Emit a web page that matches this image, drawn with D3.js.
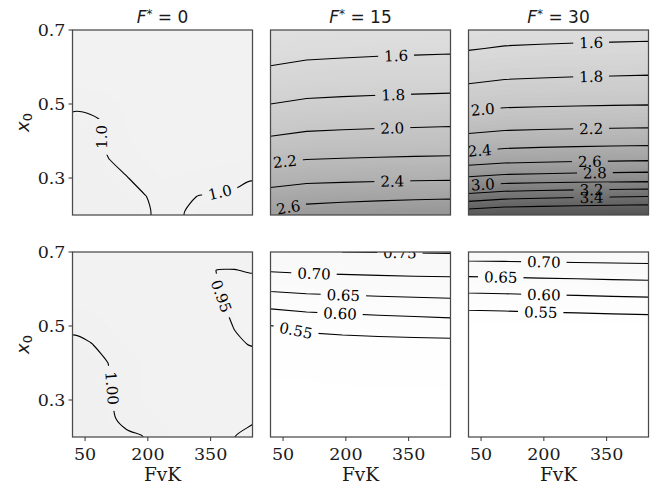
<!DOCTYPE html>
<html>
<head>
<meta charset="utf-8">
<script src="https://cdn.jsdelivr.net/npm/d3@7"></script>
<style>
  body { margin: 0; background: #fff; }
  svg text { font-family: "DejaVu Serif", serif; fill: #1a1a1a; }
</style>
</head>
<body>
<div id="chart"></div>
<script>
// Axis setup
var fvkDomain = [20, 450]
var x0Domain = [0.2, 0.7]
var fvkTicks = [50, 200, 350]
var x0Ticks = [0.3, 0.5, 0.7]
var fStars = [0, 15, 30]
var colorDomain = [0.5, 5]

// Grids: rows go from x0 = 0.7 (top) down to 0.2 in steps of 0.05,
// columns are spread evenly over FvK 20..450
var topF0 = [
  [0.970, 0.970, 0.970, 0.970, 0.970, 0.970, 0.970, 0.970, 0.970, 0.970, 0.970],
  [0.970, 0.970, 0.970, 0.970, 0.970, 0.970, 0.970, 0.970, 0.970, 0.970, 0.970],
  [0.970, 0.970, 0.970, 0.970, 0.970, 0.970, 0.970, 0.970, 0.970, 0.970, 0.970],
  [0.9735, 0.9715, 0.970, 0.970, 0.970, 0.970, 0.970, 0.970, 0.970, 0.970, 0.970],
  [0.992, 0.9895, 0.9834, 0.970, 0.970, 0.970, 0.970, 0.970, 0.970, 0.970, 0.970],
  [1.0105, 1.008, 0.9955, 0.9755, 0.970, 0.970, 0.970, 0.970, 0.970, 0.970, 0.970],
  [1.029, 1.0135, 0.9924, 0.9775, 0.970, 0.970, 0.970, 0.970, 0.970, 0.970, 0.970],
  [1.030, 1.020, 1.0007, 0.989, 0.976, 0.970, 0.970, 0.970, 0.970, 0.972, 0.9806],
  [1.030, 1.027, 1.014, 1.0014, 0.989, 0.976, 0.977, 0.982, 0.985, 0.990, 0.9973],
  [1.030, 1.030, 1.0285, 1.015, 1.0015, 0.988, 0.992, 1.001, 1.0035, 1.007, 1.014],
  [1.030, 1.030, 1.030, 1.023, 1.006, 0.989, 0.9968, 1.013, 1.021, 1.024, 1.030]
]
var topF15 = [
  [1.430, 1.459, 1.470, 1.478, 1.484, 1.490],
  [1.518, 1.545, 1.554, 1.562, 1.568, 1.573],
  [1.606, 1.634, 1.644, 1.652, 1.658, 1.664],
  [1.703, 1.729, 1.739, 1.746, 1.752, 1.757],
  [1.800, 1.830, 1.840, 1.848, 1.855, 1.861],
  [1.912, 1.942, 1.952, 1.960, 1.967, 1.973],
  [2.031, 2.063, 2.074, 2.083, 2.090, 2.096],
  [2.174, 2.200, 2.209, 2.216, 2.222, 2.227],
  [2.321, 2.348, 2.357, 2.365, 2.371, 2.376],
  [2.474, 2.521, 2.538, 2.551, 2.562, 2.571],
  [2.640, 2.713, 2.739, 2.759, 2.776, 2.790]
]
var topF30 = [
  [1.497, 1.517, 1.524, 1.530, 1.534, 1.538],
  [1.589, 1.614, 1.623, 1.630, 1.635, 1.640],
  [1.698, 1.722, 1.731, 1.738, 1.743, 1.748],
  [1.811, 1.838, 1.847, 1.855, 1.861, 1.866],
  [1.948, 1.970, 1.978, 1.984, 1.989, 1.993],
  [2.096, 2.119, 2.128, 2.134, 2.139, 2.144],
  [2.271, 2.306, 2.319, 2.328, 2.336, 2.343],
  [2.500, 2.539, 2.553, 2.564, 2.572, 2.580],
  [2.822, 2.861, 2.875, 2.886, 2.894, 2.902],
  [3.271, 3.334, 3.356, 3.374, 3.388, 3.400],
  [3.760, 3.800, 3.815, 3.828, 3.838, 3.845]
]
var botF0 = [
  [0.975, 0.975, 0.975, 0.975, 0.975, 0.975, 0.975, 0.975, 0.968, 0.967, 0.971],
  [0.975, 0.975, 0.975, 0.975, 0.975, 0.975, 0.975, 0.968, 0.9495, 0.9489, 0.9527],
  [0.975, 0.975, 0.975, 0.975, 0.975, 0.975, 0.975, 0.970, 0.9522, 0.9348, 0.9343],
  [0.975, 0.975, 0.975, 0.975, 0.975, 0.975, 0.975, 0.975, 0.9584, 0.9416, 0.925],
  [0.991, 0.9873, 0.976, 0.975, 0.975, 0.975, 0.975, 0.975, 0.965, 0.9483, 0.930],
  [1.0095, 1.0016, 0.9895, 0.976, 0.975, 0.975, 0.975, 0.975, 0.970, 0.9563, 0.9476],
  [1.025, 1.0164, 0.9995, 0.983, 0.975, 0.975, 0.975, 0.975, 0.975, 0.970, 0.9663],
  [1.025, 1.021, 1.003, 0.985, 0.975, 0.975, 0.975, 0.975, 0.975, 0.975, 0.975],
  [1.025, 1.022, 1.0044, 0.9864, 0.975, 0.975, 0.975, 0.975, 0.975, 0.975, 0.975],
  [1.025, 1.025, 1.0065, 0.9906, 0.9826, 0.975, 0.975, 0.975, 0.975, 0.9652, 0.955],
  [1.025, 1.025, 1.015, 1.0065, 0.9995, 0.981, 0.975, 0.971, 0.9607, 0.9502, 0.9397]
]
var botF15 = [
  [0.747, 0.749, 0.750, 0.751, 0.752, 0.753],
  [0.703, 0.707, 0.709, 0.711, 0.713, 0.714],
  [0.657, 0.663, 0.666, 0.669, 0.671, 0.673],
  [0.604, 0.613, 0.617, 0.621, 0.624, 0.627],
  [0.549, 0.560, 0.566, 0.571, 0.575, 0.579],
  [0.530, 0.532, 0.533, 0.534, 0.535, 0.535],
  [0.524, 0.526, 0.527, 0.528, 0.529, 0.530],
  [0.518, 0.519, 0.520, 0.521, 0.521, 0.522],
  [0.514, 0.515, 0.515, 0.515, 0.516, 0.516],
  [0.510, 0.510, 0.510, 0.510, 0.510, 0.510],
  [0.505, 0.505, 0.505, 0.505, 0.505, 0.505]
]
var botF30 = [
  [0.729, 0.730, 0.731, 0.733, 0.734, 0.735],
  [0.669, 0.671, 0.673, 0.675, 0.677, 0.679],
  [0.612, 0.614, 0.617, 0.619, 0.622, 0.624],
  [0.557, 0.559, 0.562, 0.564, 0.567, 0.569],
  [0.510, 0.512, 0.514, 0.516, 0.518, 0.520],
  [0.507, 0.508, 0.509, 0.510, 0.511, 0.512],
  [0.505, 0.506, 0.507, 0.508, 0.509, 0.510],
  [0.504, 0.505, 0.506, 0.506, 0.507, 0.508],
  [0.503, 0.504, 0.504, 0.505, 0.505, 0.506],
  [0.502, 0.502, 0.503, 0.503, 0.504, 0.504],
  [0.501, 0.501, 0.501, 0.502, 0.502, 0.502]
]

// Contour levels and where their labels sit: [level, FvK, x0]
var topF0Levels = [1.0]
var topF15Levels = [1.6, 1.8, 2.0, 2.2, 2.4, 2.6]
var topF30Levels = [1.6, 1.8, 2.0, 2.2, 2.4, 2.6, 2.8, 3.0, 3.2, 3.4, 3.6]
var botF0Levels = [0.95, 1.0]
var botF15Levels = [0.55, 0.6, 0.65, 0.7, 0.75]
var botF30Levels = [0.55, 0.6, 0.65, 0.7]

var topF0Labels = [[1.0, 92, 0.411], [1.0, 356, 0.342]]
var topF15Labels = [[1.6, 320, 0.632], [1.8, 313, 0.524], [2.0, 311, 0.434], [2.2, 55, 0.34], [2.4, 311, 0.292], [2.6, 63, 0.218]]
var topF30Labels = [[1.6, 313, 0.667], [1.8, 313, 0.572], [2.0, 54, 0.484], [2.2, 313, 0.434], [2.4, 47, 0.371],
  [2.6, 310, 0.34], [2.8, 322, 0.313], [3.0, 54, 0.29], [3.2, 314, 0.261], [3.4, 314, 0.248]]
var botF0Labels = [[1.0, 117, 0.332], [0.95, 376, 0.581]]
var botF15Labels = [[0.75, 329, 0.698], [0.7, 124, 0.644], [0.65, 194, 0.582], [0.6, 186, 0.532], [0.55, 81, 0.489]]
var botF30Labels = [[0.7, 200, 0.674], [0.65, 97, 0.632], [0.6, 200, 0.582], [0.55, 192.5, 0.537]]

// Layout
var chart = { width: 659, height: 487 }
var panelW = 180
var panelH = 185
var lefts = [72.5, 270.5, 468.5]
var tops = [30, 252]

// the F* = 0 fields bend a lot, so their lines get a spline through the crossings
var panels = [
  { row: 0, col: 0, values: topF0, levels: topF0Levels, labels: topF0Labels, fmt: '.1f', smooth: true },
  { row: 0, col: 1, values: topF15, levels: topF15Levels, labels: topF15Labels, fmt: '.1f', smooth: false },
  { row: 0, col: 2, values: topF30, levels: topF30Levels, labels: topF30Labels, fmt: '.1f', smooth: false },
  { row: 1, col: 0, values: botF0, levels: botF0Levels, labels: botF0Labels, fmt: '.2f', smooth: true },
  { row: 1, col: 1, values: botF15, levels: botF15Levels, labels: botF15Labels, fmt: '.2f', smooth: false },
  { row: 1, col: 2, values: botF30, levels: botF30Levels, labels: botF30Labels, fmt: '.2f', smooth: false }
]

var svg = d3.select('#chart').append('svg')
  .attr('width', chart.width)
  .attr('height', chart.height)

var x = d3.scaleLinear().domain(fvkDomain).range([0, panelW])
var y = d3.scaleLinear().domain(x0Domain).range([panelH, 0])

function color(v) {
  return d3.interpolateGreys((v - colorDomain[0]) / (colorDomain[1] - colorDomain[0]))
}

var smoothRing = d3.line().curve(d3.curveCatmullRomClosed.alpha(0.5))
var defs = svg.append('defs')

panels.forEach(function (p, i) {
  var g = svg.append('g').attr('transform', `translate(${lefts[p.col]},${tops[p.row]})`)
  var n = p.values[0].length
  var m = p.values.length
  var flat = d3.merge(p.values)

  // d3.contours puts sample k at k + 0.5
  function gridToPixel(gx, gy) {
    var fvk = fvkDomain[0] + (gx - 0.5) * (fvkDomain[1] - fvkDomain[0]) / (n - 1)
    var x0 = x0Domain[1] - (gy - 0.5) * (x0Domain[1] - x0Domain[0]) / (m - 1)
    return [x(fvk), y(x0)]
  }
  var path = d3.geoPath(d3.geoTransform({
    point: function (gx, gy) {
      var pt = gridToPixel(gx, gy)
      this.stream.point(pt[0], pt[1])
    }
  }))
  function linePath(contour) {
    if (!p.smooth) return path(contour)
    return contour.coordinates.map(function (poly) {
      return poly.map(ring => smoothRing(ring.slice(0, -1).map(q => gridToPixel(q[0], q[1])))).join('')
    }).join('')
  }

  defs.append('clipPath').attr('id', 'clip-' + i)
    .append('rect').attr('width', panelW).attr('height', panelH)

  var body = g.append('g').attr('clip-path', `url(#clip-${i})`)

  // shaded field
  var lo = d3.min(flat)
  var hi = d3.max(flat)
  body.append('rect').attr('width', panelW).attr('height', panelH).attr('fill', color(lo))
  var bands = d3.contours().size([n, m]).thresholds(d3.range(lo, hi, (hi - lo) / 70))(flat)
  body.selectAll('path.band')
    .data(bands)
    .enter()
    .append('path')
    .attr('class', 'band')
    .attr('d', path)
    .attr('fill', d => color(d.value))

  // contour lines
  var lines = d3.contours().size([n, m]).thresholds(p.levels)(flat)

  // labels go on the nearest point of their contour, turned along it
  var fmt = d3.format(p.fmt)
  var placed = p.labels.map(function (lab) {
    var target = [x(lab[1]), y(lab[2])]
    var contour = lines.find(c => Math.abs(c.value - lab[0]) < 1e-9)
    var best = { dist: Infinity, pt: target, angle: 0 }
    contour.coordinates.forEach(function (poly) {
      poly.forEach(function (ring) {
        for (let k = 0; k < ring.length - 1; k++) {
          let a = gridToPixel(ring[k][0], ring[k][1])
          let b = gridToPixel(ring[k + 1][0], ring[k + 1][1])
          let inside = [a, b].every(q => q[0] >= -0.5 && q[0] <= panelW + 0.5 && q[1] >= -0.5 && q[1] <= panelH + 0.5)
          if (!inside) continue
          let dx = b[0] - a[0], dy = b[1] - a[1]
          let len2 = dx * dx + dy * dy
          if (len2 === 0) continue
          let t = Math.max(0, Math.min(1, ((target[0] - a[0]) * dx + (target[1] - a[1]) * dy) / len2))
          let q = [a[0] + t * dx, a[1] + t * dy]
          let dist = Math.hypot(q[0] - target[0], q[1] - target[1])
          if (dist < best.dist) {
            let angle = Math.atan2(dy, dx) * 180 / Math.PI
            if (angle > 90) angle -= 180
            if (angle <= -90) angle += 180
            best = { dist: dist, pt: q, angle: angle }
          }
        }
      })
    })
    return { text: fmt(lab[0]), pt: best.pt, angle: best.angle }
  })

  var maskId = 'mask-' + i
  var mask = defs.append('mask').attr('id', maskId)
    .attr('maskUnits', 'userSpaceOnUse')
    .attr('x', -10).attr('y', -10).attr('width', panelW + 20).attr('height', panelH + 20)
  mask.append('rect')
    .attr('x', -10).attr('y', -10).attr('width', panelW + 20).attr('height', panelH + 20)
    .attr('fill', 'white')

  body.append('g')
    .attr('mask', `url(#${maskId})`)
    .selectAll('path.level')
    .data(lines)
    .enter()
    .append('path')
    .attr('class', 'level')
    .attr('d', linePath)
    .attr('fill', 'none')
    .attr('stroke', '#000')
    .attr('stroke-width', 1.1)

  var labelText = body.append('g').selectAll('text')
    .data(placed)
    .enter()
    .append('text')
    .attr('transform', d => `translate(${d.pt[0]},${d.pt[1]}) rotate(${d.angle})`)
    .attr('text-anchor', 'middle')
    .attr('dy', '0.36em')
    .style('font-size', '15px')
    .style('fill', '#000')
    .text(d => d.text)

  labelText.each(function (d) {
    var w = this.getComputedTextLength() + 12
    mask.append('rect')
      .attr('x', -w / 2).attr('y', -7)
      .attr('width', w).attr('height', 14)
      .attr('transform', `translate(${d.pt[0]},${d.pt[1]}) rotate(${d.angle})`)
      .attr('fill', 'black')
  })

  // frame
  g.append('rect')
    .attr('width', panelW).attr('height', panelH)
    .attr('fill', 'none')
    .attr('stroke', '#4a4a4a')
    .attr('stroke-width', 1.25)

  // y ticks on the first column
  if (p.col === 0) {
    x0Ticks.forEach(function (t) {
      g.append('line')
        .attr('x1', -4).attr('x2', 0)
        .attr('y1', y(t)).attr('y2', y(t))
        .attr('stroke', '#333').attr('stroke-width', 1)
      g.append('text')
        .attr('x', -7).attr('y', y(t))
        .attr('dy', '0.36em')
        .attr('text-anchor', 'end')
        .style('font-size', '17.5px')
        .text(d3.format('.1f')(t))
    })
    var yl = g.append('text')
      .attr('transform', `translate(-50,${panelH / 2}) rotate(-90)`)
      .attr('text-anchor', 'middle')
      .attr('dy', '0.36em')
      .style('font-family', '"DejaVu Sans", sans-serif')
      .style('font-size', '18px')
    yl.append('tspan').style('font-style', 'italic').text('x')
    yl.append('tspan').attr('baseline-shift', '-25%').style('font-size', '13px').text('0')
  }

  // x ticks on the bottom row
  if (p.row === 1) {
    fvkTicks.forEach(function (t) {
      g.append('line')
        .attr('x1', x(t)).attr('x2', x(t))
        .attr('y1', panelH).attr('y2', panelH + 4)
        .attr('stroke', '#333').attr('stroke-width', 1)
      g.append('text')
        .attr('x', x(t)).attr('y', panelH + 23)
        .attr('text-anchor', 'middle')
        .style('font-size', '17.5px')
        .text(t)
    })
    g.append('text')
      .attr('x', panelW / 2).attr('y', panelH + 44)
      .attr('text-anchor', 'middle')
      .style('font-size', '18.5px')
      .text('FvK')
  }

  // titles on the top row
  if (p.row === 0) {
    var title = g.append('text')
      .attr('x', panelW / 2).attr('y', -7)
      .attr('text-anchor', 'middle')
      .style('font-family', '"DejaVu Sans", sans-serif')
      .style('font-size', '17px')
    title.append('tspan').style('font-style', 'italic').text('F')
    title.append('tspan').attr('baseline-shift', '40%').style('font-size', '12px').text('*')
    title.append('tspan').text(' = ' + fStars[p.col])
  }
})
</script>
</body>
</html>
